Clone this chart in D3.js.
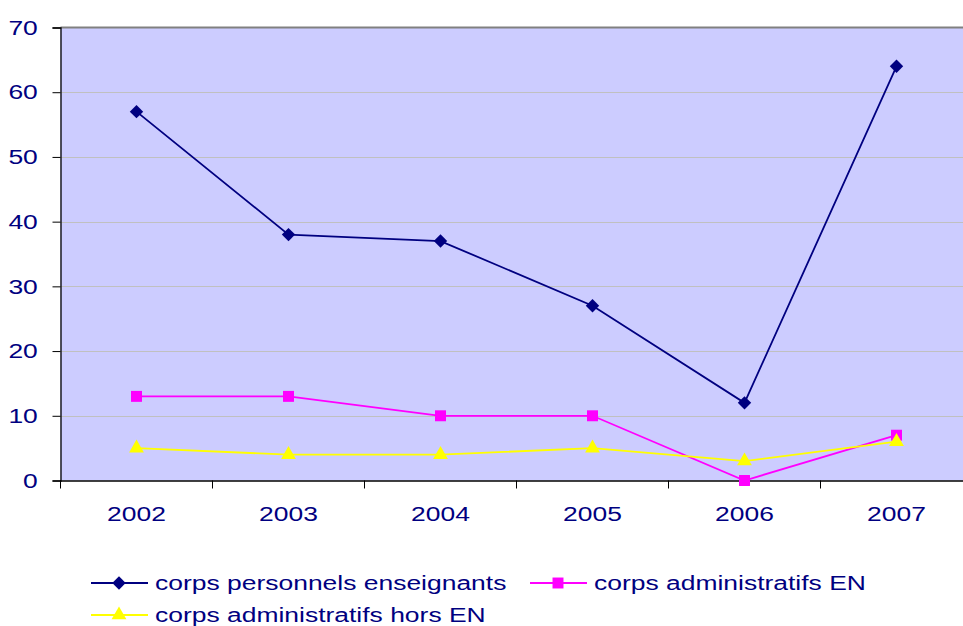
<!DOCTYPE html>
<html>
<head>
<meta charset="utf-8">
<script src="https://cdn.jsdelivr.net/npm/d3@7"></script>
<style>
  body { margin: 0; background: #fff; }
  svg { display: block; font-family: "Liberation Sans", Arial, sans-serif; }
</style>
</head>
<body>
<svg id="chart" width="963" height="626"></svg>
<script>
'use strict';

const years = ['2002', '2003', '2004', '2005', '2006', '2007'];
const enseignants = [57, 38, 37, 27, 12, 64];
const adminEN = [13, 13, 10, 10, 0, 7];
const adminHorsEN = [5, 4, 4, 5, 3, 6];
const yTicks = [0, 10, 20, 30, 40, 50, 60, 70];

const series = [
  {name: 'corps personnels enseignants', values: enseignants, color: '#000080', marker: 'diamond'},
  {name: 'corps administratifs EN', values: adminEN, color: '#ff00ff', marker: 'square'},
  {name: 'corps administratifs hors EN', values: adminHorsEN, color: '#ffff00', marker: 'triangle'}
];

const plotLeft = 60.5;
const plotTop = 27.5;
const plotBottom = 480.5;
const catWidth = 152;
const textColor = '#000080';
const fontSize = 21;
const stretch = 1.26; // the original text is rendered wide

const svg = d3.select('#chart');

const x = d3.scaleBand()
  .domain(years)
  .range([plotLeft, plotLeft + catWidth * years.length]);

const y = d3.scaleLinear()
  .domain([0, 70])
  .range([plotBottom, plotTop]);

// plot background
svg.append('rect')
  .attr('x', plotLeft)
  .attr('y', plotTop)
  .attr('width', catWidth * years.length)
  .attr('height', plotBottom - plotTop)
  .attr('fill', '#ccccff');

// gridlines
svg.append('g')
  .selectAll('line')
  .data(yTicks.filter(t => t > 0 && t < 70))
  .join('line')
  .attr('x1', plotLeft)
  .attr('x2', plotLeft + catWidth * years.length)
  .attr('y1', d => Math.round(y(d)) + 0.5)
  .attr('y2', d => Math.round(y(d)) + 0.5)
  .attr('stroke', '#c0c0c0')
  .attr('stroke-width', 1);

// top border
svg.append('line')
  .attr('x1', plotLeft)
  .attr('x2', plotLeft + catWidth * years.length)
  .attr('y1', plotTop)
  .attr('y2', plotTop)
  .attr('stroke', '#808080')
  .attr('stroke-width', 2);

// y axis
const yAxis = svg.append('g')
  .attr('transform', `translate(${plotLeft},0)`)
  .call(d3.axisLeft(y).tickValues(yTicks).tickSize(8).tickPadding(10));
yAxis.select('.domain').attr('stroke', '#000').attr('stroke-width', 1.3);
yAxis.selectAll('.tick line').attr('stroke', '#000');
yAxis.selectAll('.tick text')
  .attr('fill', textColor)
  .attr('font-size', fontSize)
  .attr('font-family', '"Liberation Sans", Arial, sans-serif')
  .attr('transform', `scale(${stretch},1)`);

// x axis
const xAxisG = svg.append('g')
  .attr('transform', `translate(0,${plotBottom})`)
  .call(d3.axisBottom(x).tickSize(0).tickPadding(26));
xAxisG.select('.domain').attr('stroke', '#000').attr('stroke-width', 1.3);
xAxisG.selectAll('.tick text')
  .attr('fill', textColor)
  .attr('font-size', fontSize)
  .attr('font-family', '"Liberation Sans", Arial, sans-serif')
  .attr('transform', `scale(${stretch},1)`);
xAxisG.selectAll('.sep')
  .data(d3.range(years.length + 1))
  .join('line')
  .attr('class', 'sep')
  .attr('x1', i => plotLeft + i * catWidth)
  .attr('x2', i => plotLeft + i * catWidth)
  .attr('y1', 0)
  .attr('y2', 8)
  .attr('stroke', '#000');

const line = d3.line()
  .x((d, i) => x(years[i]) + x.bandwidth() / 2)
  .y(d => y(d));

// markers: rotated square for the diamond, like the original
const markerPath = {
  diamond: {d: d3.symbol().type(d3.symbolSquare).size(90)(), rot: 45},
  square: {d: d3.symbol().type(d3.symbolSquare).size(120)(), rot: 0},
  triangle: {d: d3.symbol().type(d3.symbolTriangle).size(95)(), rot: 0}
};

function drawMarker(g, s, cx, cy) {
  const m = markerPath[s.marker];
  g.append('path')
    .attr('transform', `translate(${cx},${cy}) rotate(${m.rot})`)
    .attr('d', m.d)
    .attr('fill', s.color);
}

series.forEach(s => {
  svg.append('path')
    .attr('d', line(s.values))
    .attr('fill', 'none')
    .attr('stroke', s.color)
    .attr('stroke-width', 1.8);
  const mg = svg.append('g');
  s.values.forEach((v, i) => drawMarker(mg, s, x(years[i]) + x.bandwidth() / 2, y(v)));
});

// legend
const legendPos = [
  {x: 91, y: 583},
  {x: 530, y: 583},
  {x: 91, y: 615}
];
series.forEach((s, i) => {
  const p = legendPos[i];
  const g = svg.append('g').attr('transform', `translate(${p.x},${p.y})`);
  g.append('line')
    .attr('x1', 0).attr('x2', 57)
    .attr('y1', 0).attr('y2', 0)
    .attr('stroke', s.color)
    .attr('stroke-width', 1.8);
  drawMarker(g, s, 28, 0);
  g.append('text')
    .attr('transform', `translate(64,0) scale(${stretch},1)`)
    .attr('dy', '0.35em')
    .attr('fill', textColor)
    .attr('font-size', fontSize)
    .text(s.name);
});
</script>
</body>
</html>
